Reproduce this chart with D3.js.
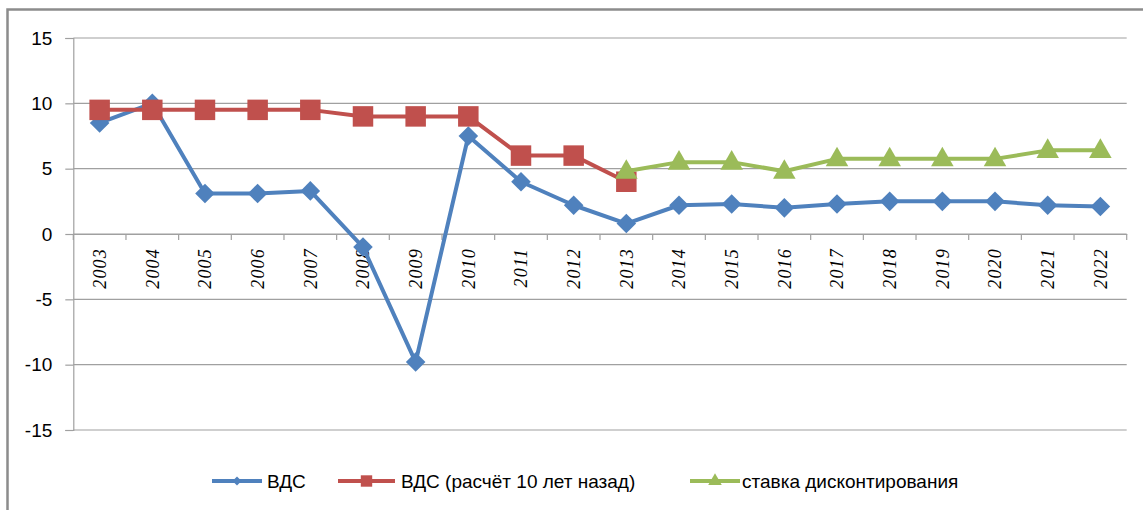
<!DOCTYPE html>
<html>
<head>
<meta charset="utf-8">
<script src="https://cdn.jsdelivr.net/npm/d3@7"></script>
<style>
  html, body { margin: 0; padding: 0; background: #fff; }
  svg { display: block; }
  .ylab { font-family: "Liberation Sans", Arial, sans-serif; font-size: 19px; fill: #000; }
  .xlab { font-family: "Liberation Serif", "DejaVu Serif", serif; font-style: italic; font-size: 18px; fill: #000; letter-spacing: 1.2px; }
  .leg { font-family: "Liberation Sans", Arial, sans-serif; font-size: 19px; fill: #000; }
</style>
</head>
<body>
<svg id="chart" width="1143" height="510"></svg>
<script>
const years = ["2003","2004","2005","2006","2007","2008","2009","2010","2011","2012","2013","2014","2015","2016","2017","2018","2019","2020","2021","2022"];
const vds = [8.5, 10.0, 3.1, 3.1, 3.3, -1.0, -9.8, 7.5, 4.0, 2.2, 0.8, 2.2, 2.3, 2.0, 2.3, 2.5, 2.5, 2.5, 2.2, 2.1];
const vds10 = [9.5, 9.5, 9.5, 9.5, 9.5, 9.0, 9.0, 9.0, 6.0, 6.0, 4.0, null, null, null, null, null, null, null, null, null];
const discount = [null, null, null, null, null, null, null, null, null, null, 4.8, 5.5, 5.5, 4.8, 5.75, 5.75, 5.75, 5.75, 6.4, 6.4];
const yTicks = [-15, -10, -5, 0, 5, 10, 15];
const seriesNames = ["ВДС", "ВДС (расчёт 10 лет назад)", "ставка дисконтирования"];
const colors = ["#4F81BD", "#C0504D", "#9BBB59"];

const svg = d3.select("#chart");
const plotL = 73.3, plotR = 1126.7, plotT = 38, plotB = 430;

const x = d3.scaleBand().domain(years).range([plotL, plotR]).padding(0);
const y = d3.scaleLinear().domain([-15, 15]).range([plotB, plotT]);

// outer frame (left & top visible)
svg.append("path").attr("d", `M7.5,510 L7.5,9.5 L1143,9.5`).attr("fill","none").attr("stroke","#8c8c8c").attr("stroke-width",2.5);

// gridlines
svg.append("g").selectAll("line").data(yTicks).join("line")
  .attr("x1", plotL).attr("x2", plotR).attr("y1", d => y(d)).attr("y2", d => y(d))
  .attr("stroke", "#a0a0a0").attr("stroke-width", 1.2);

// y axis
const yAxis = d3.axisLeft(y).tickValues(yTicks).tickSize(8).tickPadding(12).tickFormat(d => d);
const gy = svg.append("g").attr("transform", `translate(${plotL},0)`).call(yAxis);
gy.attr("font-size", null).attr("font-family", null);
gy.select(".domain").attr("stroke", "#a0a0a0").attr("stroke-width", 1.2);
gy.selectAll(".tick line").attr("stroke", "#a0a0a0").attr("stroke-width", 1.2);
gy.selectAll(".tick text").attr("class", "ylab").attr("fill", null)
  .attr("x", -21).attr("dy", "0.33em");

// x axis at y=0
const xAxis = d3.axisBottom(x).tickSize(0).tickFormat(d => d);
const gx = svg.append("g").attr("transform", `translate(0,${y(0)})`).call(xAxis);
gx.attr("font-size", null).attr("font-family", null);
gx.select(".domain").attr("stroke", "#a0a0a0").attr("stroke-width", 1.2);
gx.selectAll(".tick text")
  .attr("class", "xlab").attr("fill", null)
  .attr("transform", "rotate(-90)")
  .attr("text-anchor", "end")
  .attr("x", -14).attr("y", 0).attr("dy", "0.35em");
// category boundary tick marks
const bounds = years.map(d => x(d)).concat([plotR]);
svg.append("g").selectAll("line").data(bounds).join("line")
  .attr("x1", d => d).attr("x2", d => d).attr("y1", y(0)).attr("y2", y(0) + 6)
  .attr("stroke", "#a0a0a0").attr("stroke-width", 1.2);

const cx = d => x(d) + x.bandwidth() / 2;

function drawSeries(vals, color, shape, size) {
  const pts = years.map((yr, i) => ({yr, v: vals[i]})).filter(p => p.v !== null);
  const line = d3.line().x(p => cx(p.yr)).y(p => y(p.v));
  svg.append("path").datum(pts).attr("d", line).attr("fill", "none")
    .attr("stroke", color).attr("stroke-width", 4).attr("stroke-linejoin", "round");
  svg.append("g").selectAll("path").data(pts).join("path")
    .attr("d", d3.symbol().type(shape).size(size)())
    .attr("transform", p => `translate(${cx(p.yr)},${y(p.v)})${shape === d3.symbolTriangle ? "translate(0,1)" : ""}`)
    .attr("fill", color);
}
const diamond = { draw(ctx, size) { const r = Math.sqrt(size) / 2 * 1.15; ctx.moveTo(0, -r); ctx.lineTo(r, 0); ctx.lineTo(0, r); ctx.lineTo(-r, 0); ctx.closePath(); } };

drawSeries(vds, colors[0], diamond, 290);
drawSeries(vds10, colors[1], d3.symbolSquare, 420);
drawSeries(discount, colors[2], d3.symbolTriangle, 220);

// legend
const legY = 481;
const legItems = [
  {x1: 212, x2: 262, tx: 267, shape: diamond, size: 60},
  {x1: 338, x2: 395, tx: 401, shape: d3.symbolSquare, size: 130},
  {x1: 690, x2: 740, tx: 742, shape: d3.symbolTriangle, size: 80}
];
legItems.forEach((it, i) => {
  const g = svg.append("g");
  g.append("line").attr("x1", it.x1).attr("x2", it.x2).attr("y1", legY).attr("y2", legY)
    .attr("stroke", colors[i]).attr("stroke-width", 4);
  g.append("path").attr("d", d3.symbol().type(it.shape).size(it.size)())
    .attr("transform", `translate(${(it.x1 + it.x2) / 2},${legY})`).attr("fill", colors[i]);
  g.append("text").attr("class", "leg").attr("x", it.tx).attr("y", legY).attr("dy", "0.35em").text(seriesNames[i]);
});
</script>
</body>
</html>
